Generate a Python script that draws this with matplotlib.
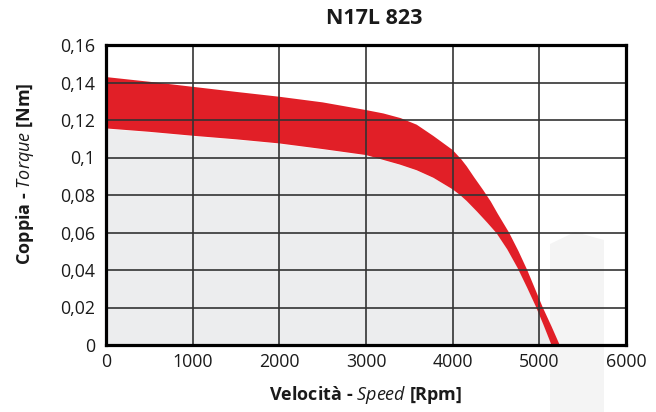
import matplotlib
matplotlib.use("Agg")
import matplotlib.pyplot as plt
from matplotlib.patches import Polygon

plt.rcParams['font.family'] = ['Open Sans', 'DejaVu Sans']
plt.rcParams['mathtext.fontset'] = 'custom'
plt.rcParams['mathtext.it'] = 'Open Sans:italic'
plt.rcParams['mathtext.rm'] = 'Open Sans'
plt.rcParams['mathtext.bf'] = 'Open Sans:bold'

# upper edge of the torque band
speed_upper = [0, 500, 1000, 1500, 2000, 2500, 3000, 3200, 3400, 3585, 3777,
               4000, 4100, 4162, 4250, 4354, 4440, 4520, 4650, 4760, 4860, 4950,
               5040, 5140, 5235]
torque_upper = [0.1429, 0.1404, 0.1377, 0.1350, 0.1324, 0.1294, 0.1253, 0.1235,
                0.1210, 0.1175, 0.1115, 0.1040, 0.0990, 0.0953, 0.0893, 0.0825,
                0.0765, 0.0700, 0.0600, 0.0500, 0.0400, 0.0300, 0.0200, 0.0100, 0.0]

# lower edge of the torque band
speed_lower = [0, 500, 1000, 1500, 2000, 2500, 3000, 3392, 3585, 3777, 4000,
               4085, 4162, 4280, 4400, 4505, 4630, 4750, 4860, 4960, 5050, 5140]
torque_lower = [0.1155, 0.1137, 0.1116, 0.1097, 0.1075, 0.1045, 0.1013, 0.0962,
                0.0932, 0.0892, 0.0830, 0.0800, 0.0768, 0.0712, 0.0652, 0.0597,
                0.0510, 0.0410, 0.0305, 0.0205, 0.0105, 0.0]

x_ticks = [0, 1000, 2000, 3000, 4000, 5000, 6000]
y_ticks = [0, 0.02, 0.04, 0.06, 0.08, 0.1, 0.12, 0.14, 0.16]
y_ticklabels = ['0', '0,02', '0,04', '0,06', '0,08', '0,1', '0,12', '0,14', '0,16']

fig = plt.figure(figsize=(6.56, 4.12), dpi=100)
ax = fig.add_axes([106 / 656, 67 / 412, 520 / 656, 300 / 412])
ax.set_facecolor('none')

# faint background watermark in the lower right
wm = Polygon([(550 / 656, 0), (550 / 656, 168 / 412), (575 / 656, 180 / 412),
              (604 / 656, 172 / 412), (604 / 656, 0)],
             closed=True, transform=fig.transFigure, facecolor='#f4f4f4',
             edgecolor='none', zorder=-1)
fig.patches.append(wm)

ax.fill_between(speed_lower, torque_lower, 0, color='#ecedee', lw=0, zorder=1)
band_x = speed_upper + speed_lower[::-1]
band_y = torque_upper + torque_lower[::-1]
ax.fill(band_x, band_y, color='#e11f27', lw=0, zorder=2)

ax.set_xlim(0, 6000)
ax.set_ylim(0, 0.16)
ax.set_xticks(x_ticks)
ax.set_yticks(y_ticks)
ax.set_yticklabels(y_ticklabels)
ax.tick_params(axis='both', length=0, labelsize=12.8, colors='#1a1a1a')
ax.tick_params(axis='x', pad=6)
ax.tick_params(axis='y', pad=8)
ax.grid(True, color='#333333', lw=1.2, zorder=3)
ax.set_axisbelow(False)
for s in ax.spines.values():
    s.set_linewidth(2.3)
    s.set_color('black')
    s.set_zorder(4)

fig.text(374 / 656, 1 - 19 / 412, 'N17L 823', ha='center', va='center',
         fontsize=15.5, fontweight='bold', color='#1a1a1a')
fig.text(366 / 656, 1 - 395 / 412, r'Velocità - $\mathit{Speed}$ [Rpm]',
         ha='center', va='center', fontsize=13, fontweight='bold', color='#1a1a1a')
fig.text(25 / 656, 1 - 174 / 412, r'Coppia - $\mathit{Torque}$ [Nm]',
         ha='center', va='center', rotation=90, fontsize=13, fontweight='bold',
         color='#1a1a1a')

fig.savefig('out.png', dpi=100)
